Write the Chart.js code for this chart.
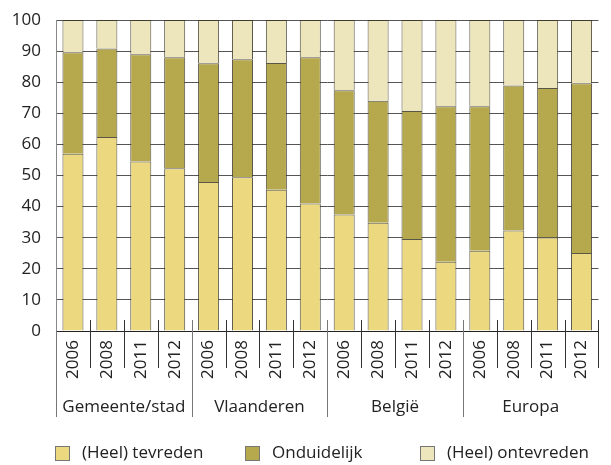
<!DOCTYPE html>
<html lang="nl">
<head>
<meta charset="UTF-8">
<title>Tevredenheid</title>
<script src="https://cdn.jsdelivr.net/npm/chart.js@4"></script>
<style>
  body { margin: 0; background: #fff; }
  #wrap { width: 611px; height: 465px; }
</style>
</head>
<body>
<div id="wrap"><canvas id="chart"></canvas></div>
<script>
// categories
const years = ['2006', '2008', '2011', '2012'];
const groups = ['Gemeente/stad', 'Vlaanderen', 'België', 'Europa'];

// series values (percent), 4 years per group
const tevreden    = [57.0, 62.4, 54.5, 52.3, 47.9, 49.4, 45.4, 41.0, 37.5, 34.8, 29.6, 22.3, 25.8, 32.3, 30.1, 25.1];
const onduidelijk = [32.6, 28.4, 34.5, 35.7, 38.2, 38.0, 40.8, 47.0, 39.9, 39.2, 41.1, 50.0, 46.5, 46.6, 48.0, 54.6];
const ontevreden  = [10.4,  9.2, 11.0, 12.0, 13.9, 12.6, 13.8, 12.0, 22.6, 26.0, 29.3, 27.7, 27.7, 21.1, 21.9, 20.3];

const labels = [];
groups.forEach(() => years.forEach(y => labels.push(y)));

const font = "'Open Sans', 'Noto Sans', sans-serif";

// separators below the axis, group names and the legend row
const groupAxis = {
  id: 'groupAxis',
  afterDraw(chart) {
    const ctx = chart.ctx;
    const x = chart.scales.x;
    const bottom = chart.chartArea.bottom;
    const n = labels.length;
    const step = (x.right - x.left) / n;
    ctx.save();
    ctx.lineWidth = 1;
    for (let i = 1; i <= n; i++) {
      const px = Math.round(x.left + i * step) + 0.5;
      const isGroup = i % years.length === 0 && i < n;
      ctx.strokeStyle = isGroup ? '#777' : '#333';
      ctx.beginPath();
      ctx.moveTo(px, bottom - 11);
      ctx.lineTo(px, isGroup ? bottom + 86 : bottom + 37);
      ctx.stroke();
    }
    // left edge down to group labels
    ctx.strokeStyle = '#777';
    ctx.beginPath();
    ctx.moveTo(Math.round(x.left) + 0.5, bottom);
    ctx.lineTo(Math.round(x.left) + 0.5, bottom + 86);
    ctx.stroke();

    ctx.fillStyle = '#222';
    ctx.font = '17px ' + font;
    ctx.textAlign = 'center';
    ctx.textBaseline = 'middle';
    groups.forEach((g, gi) => {
      const cx = (x.getPixelForValue(gi * 4) + x.getPixelForValue(gi * 4 + 3)) / 2;
      ctx.fillText(g, cx, bottom + 76);
    });

    // legend
    const legendX = [55, 245, 420];
    const ly = 453;
    ctx.textAlign = 'left';
    chart.data.datasets.forEach((ds, i) => {
      const bx = legendX[i];
      ctx.fillStyle = ds.backgroundColor;
      ctx.fillRect(bx, ly - 7, 15, 15);
      ctx.strokeStyle = '#777';
      ctx.strokeRect(bx + 0.5, ly - 6.5, 14, 14);
      ctx.fillStyle = '#222';
      ctx.fillText(ds.label, bx + 27, ly);
    });
    ctx.restore();
  }
};

const border = 'rgba(60,55,40,0.85)';

new Chart(document.getElementById('chart'), {
  type: 'bar',
  data: {
    labels: labels,
    datasets: [
      { label: '(Heel) tevreden', data: tevreden, backgroundColor: '#ecd97f', borderColor: border, borderWidth: 1 },
      { label: 'Onduidelijk', data: onduidelijk, backgroundColor: '#b5a84d', borderColor: border, borderWidth: 1 },
      { label: '(Heel) ontevreden', data: ontevreden, backgroundColor: '#ede5bb', borderColor: border, borderWidth: 1 }
    ]
  },
  options: {
    responsive: true,
    maintainAspectRatio: false,
    animation: false,
    layout: { padding: { top: 20, right: 2, left: 0, bottom: 0 } },
    datasets: { bar: { barPercentage: 0.62, categoryPercentage: 1 } },
    plugins: {
      legend: { display: false },
      tooltip: { enabled: false }
    },
    scales: {
      x: {
        stacked: true,
        grid: { display: false, drawTicks: false },
        border: { display: true, color: '#222' },
        ticks: {
          minRotation: 90,
          maxRotation: 90,
          padding: 9,
          color: '#222',
          font: { size: 17, family: font }
        },
        afterFit(s) { s.height = 134; }
      },
      y: {
        stacked: true,
        min: 0,
        max: 100,
        grid: { color: '#555', lineWidth: 1, drawTicks: false },
        border: { display: true, color: '#888' },
        ticks: {
          stepSize: 10,
          autoSkip: false,
          padding: 15,
          color: '#222',
          font: { size: 17, family: font }
        },
        afterFit(s) { s.width = 56; s.paddingTop = 0; s.paddingBottom = 0; }
      }
    }
  },
  plugins: [groupAxis]
});
</script>
</body>
</html>
